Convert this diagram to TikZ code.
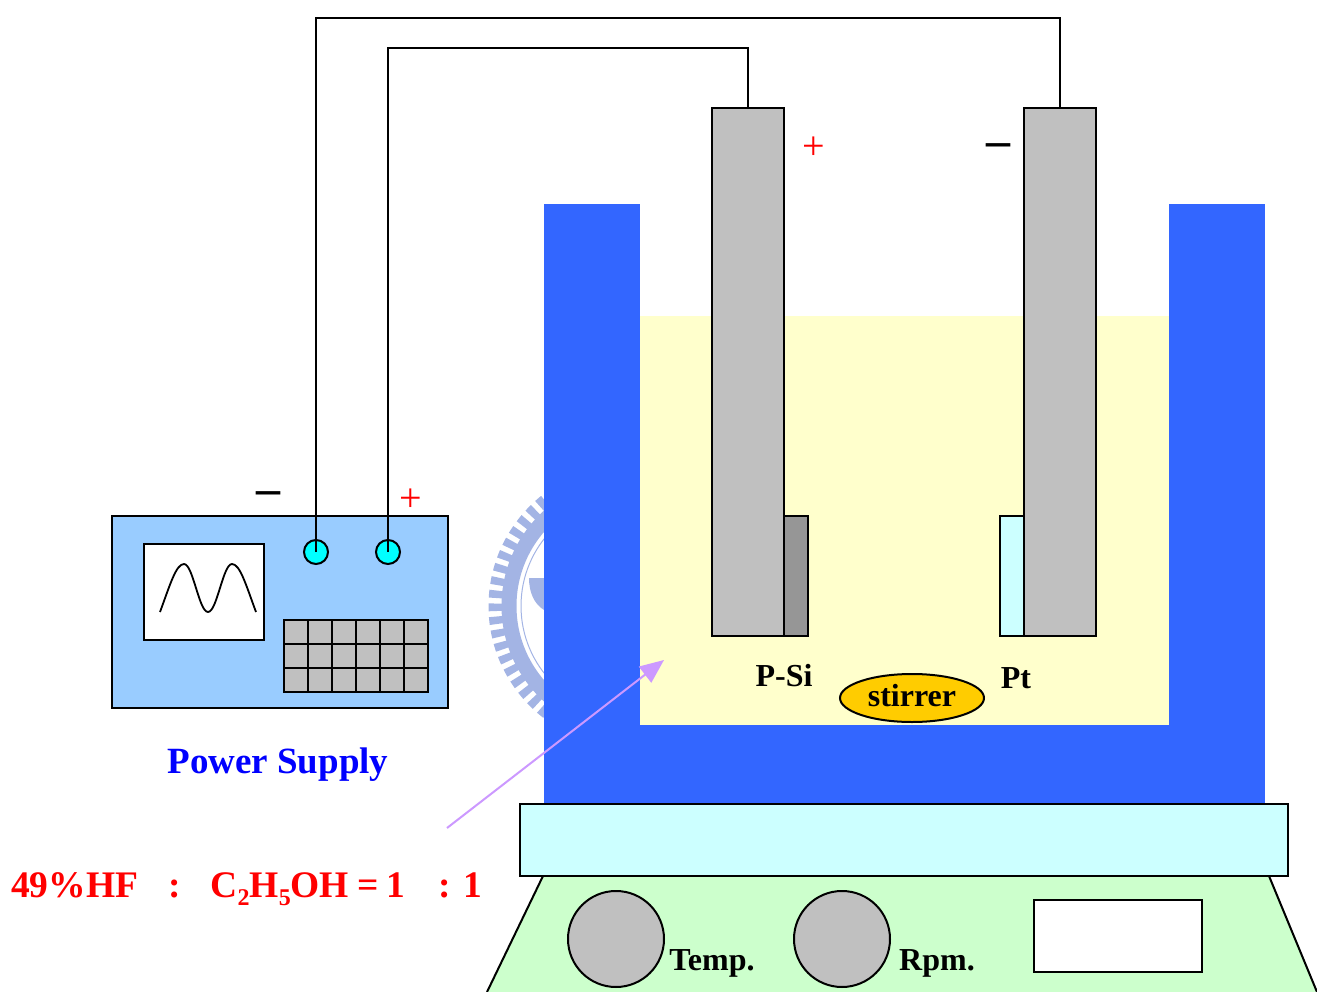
\documentclass[tikz,border=0pt]{standalone}
\usepackage{fontspec}
\setmainfont{Liberation Serif}
\usetikzlibrary{arrows.meta,shapes.geometric}
\definecolor{wallblue}{HTML}{3366FF}
\definecolor{liquid}{HTML}{FFFFCC}
\definecolor{palecyan}{HTML}{CCFFFF}
\definecolor{palegreen}{HTML}{CCFFCC}
\definecolor{greyfill}{HTML}{C0C0C0}
\definecolor{darkgrey}{HTML}{969696}
\definecolor{supply}{HTML}{99CCFF}
\definecolor{stir}{HTML}{FFCC00}
\definecolor{pointer}{HTML}{CC99FF}
\definecolor{seal}{HTML}{A3B4E4}
\definecolor{pureblue}{HTML}{0000FF}
\definecolor{termcyan}{HTML}{00FFFF}
\tikzset{
  every node/.style={inner sep=0pt,outer sep=0pt},
  px/.style args={#1x#2}{rectangle,minimum width=#1pt,minimum height=#2pt},
  part/.style={draw=black,line width=2pt},
  wire/.style={draw=black,line width=2pt},
  lbl/.style={font=\fontsize{32}{36}\selectfont\bfseries,text=black},
  plus/.style={font=\fontsize{40}{40}\selectfont,text=red},
  minus/.style={font=\fontsize{48}{48}\selectfont\bfseries,text=black},
  dial/.style={part,circle,fill=greyfill,minimum size=96pt},
  terminal/.style={part,circle,fill=termcyan,minimum size=24pt},
}
\newcommand{\subsc}[1]{\raisebox{-0.22em}{\fontsize{24}{24}\selectfont #1}}
\begin{document}
\begin{tikzpicture}[x=1pt,y=-1pt]
\useasboundingbox (0,0) rectangle (1317,992);
% watermark seal, hidden behind the vessel wall
\begin{scope}
  \clip (480,480) rectangle (544,730);
  \draw[seal,line width=15pt] (630,606) circle (121);
  \draw[seal,line width=15pt,dash pattern=on 7.5pt off 5.5pt] (630,606) circle (134);
  \draw[seal,line width=1pt] (630,606) circle (109);
  \fill[seal] (529,578) -- (544,578) -- (544,610) .. controls (534,604) and (529,592) .. (529,578) -- cycle;
\end{scope}
% vessel
\fill[wallblue] (544,204) rectangle (1265,804);
\fill[white] (640,204) rectangle (1169,725);
\fill[liquid] (640,316) rectangle (1169,725);
% stage
\fill[palegreen] (543,876) -- (487,992) -- (1317,992) -- (1269,876) -- cycle;
\draw[line width=2pt] (487,992) -- (543,876) (1269,876) -- (1317,992);
\node[part,px=768x72,fill=palecyan] (stage) at (904,840) {};
\node[dial] (temp) at (616,939) {};
\node[dial] (rpm) at (842,939) {};
\node[part,px=168x72,fill=white] (display) at (1118,936) {};
\node[lbl] (templbl) at (712,963) {Temp.};
\node[lbl] (rpmlbl) at (937,963) {Rpm.};
% samples and electrodes
\node[part,px=24x120,fill=darkgrey] (psi) at (796,576) {};
\node[part,px=24x120,fill=palecyan] (pt) at (1012,576) {};
\node[part,px=72x528,fill=greyfill] (anode) at (748,372) {};
\node[part,px=72x528,fill=greyfill] (cathode) at (1060,372) {};
\node[lbl] (psilbl) at (784,676) {P-Si};
\node[lbl] (ptlbl) at (1016,678) {Pt};
\node[part,ellipse,minimum width=144pt,minimum height=48pt,fill=stir,lbl] (stirrer) at (912,698) {};
\node[lbl] (stirlbl) at (912,696) {stirrer};
\node[plus] (plusa) at (814,148) {+};
\node[minus] (minusa) at (998,150) {–};
% power supply
\node[part,px=336x192,fill=supply] (supplybox) at (280,612) {};
\node[part,px=120x96,fill=white] (screen) at (204,592) {};
\draw[line width=1.8pt] (160,612) .. controls (170,585) and (176,564) .. (184,564)
  .. controls (193,564) and (199,612) .. (208,612)
  .. controls (217,612) and (223,564) .. (232,564)
  .. controls (240,564) and (246,585) .. (256,612);
\node[part,px=144x72,fill=greyfill] (keypad) at (356,656) {};
\foreach \x in {308,332,356,380,404} \draw[line width=2pt] (\x,620) -- (\x,692);
\foreach \y in {644,668} \draw[line width=2pt] (284,\y) -- (428,\y);
\node[terminal] (tneg) at (316,552) {};
\node[terminal] (tpos) at (388,552) {};
\node[minus] (minusb) at (268,498) {–};
\node[plus] (plusb) at (411,500) {+};
\node[font=\fontsize{37}{40}\selectfont\bfseries,text=pureblue] (pslbl) at (278,765) {Power Supply};
% wires
\coordinate (top1) at (700,18);
\coordinate (top2) at (600,48);
\draw[wire] (tneg.center) |- (top1) -| (cathode.north);
\draw[wire] (tpos.center) |- (top2) -| (anode.north);
% pointer
\coordinate (ptrstart) at (447,828);
\coordinate (ptrend) at (664,660);
\draw[pointer,line width=2pt,-{Triangle[length=24pt,width=20pt]}] (ptrstart) -- (ptrend);
% formula
\node[anchor=base west,font=\fontsize{37.5}{40}\selectfont\bfseries,text=red] (formula) at (11,897)
  {49\%HF\hspace{30pt}:\hspace{30pt}C\subsc{2}H\subsc{5}OH\hspace{8pt}=\hspace{8pt}1\hspace{33pt}:\hspace{13pt}1};
\end{tikzpicture}
\end{document}
